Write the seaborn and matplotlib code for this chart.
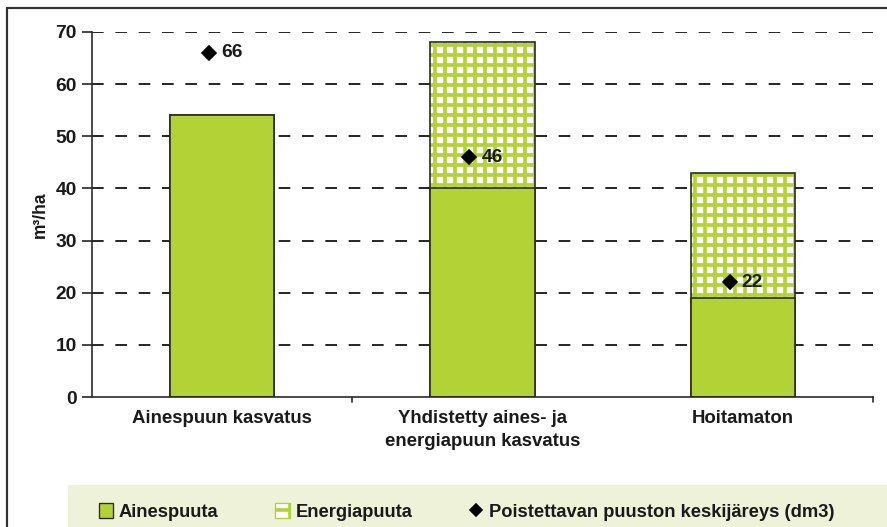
import matplotlib
matplotlib.use("Agg")
import matplotlib.pyplot as plt
import matplotlib.transforms as mtransforms
from matplotlib.patches import Patch, Rectangle
from matplotlib.lines import Line2D
import seaborn as sns
import pandas as pd

categories = ["Ainespuun kasvatus", "Yhdistetty aines- ja\nenergiapuun kasvatus", "Hoitamaton"]
ainespuuta = [54, 40, 19]
energiapuuta = [0, 28, 24]
keskijareys = [66, 46, 22]

green = "#B3D235"
edge = "#2b2b2b"

sns.set_style("white")
plt.rcParams["font.family"] = ["Liberation Sans", "DejaVu Sans"]
plt.rcParams["font.weight"] = "bold"
plt.rcParams["hatch.linewidth"] = 2.2

df = pd.DataFrame({
    "kategoria": categories,
    "aines": ainespuuta,
    "yhteensa": [a + e for a, e in zip(ainespuuta, energiapuuta)],
})

fig = plt.figure(figsize=(887 / 120, 527 / 120), dpi=120)
ax = fig.add_axes([92 / 887, 1 - 397 / 527, (873 - 92) / 887, (397 - 32) / 527])

# energiapuu (hatched) up to the total, then ainespuu on top
sns.barplot(data=df, x="kategoria", y="yhteensa", ax=ax, color="white", saturation=1,
            width=0.4, hatch="++", edgecolor=green, linewidth=0, zorder=2)
sns.barplot(data=df, x="kategoria", y="yhteensa", ax=ax, fill=False, saturation=1,
            width=0.4, edgecolor=edge, linewidth=1.0, zorder=3)
sns.barplot(data=df, x="kategoria", y="aines", ax=ax, color=green, saturation=1,
            width=0.4, edgecolor=edge, linewidth=1.0, zorder=4)

# diamonds, slightly left of the bar centre as in the original
shift = mtransforms.offset_copy(ax.transData, fig=fig, x=-13, y=0, units="dots")
xs = list(range(len(categories)))
ax.plot(xs, keskijareys, linestyle="none", marker="D", markersize=6,
        color="black", transform=shift, zorder=6)
for x, v in zip(xs, keskijareys):
    lab = mtransforms.offset_copy(ax.transData, fig=fig, x=-1, y=0, units="dots")
    ax.text(x, v, str(v), transform=lab, ha="left", va="center",
            fontsize=11.5, fontweight="bold", color="#1a1a1a", zorder=7)

ax.set_ylim(0, 70)
ax.set_xlim(-0.5, 2.5)
ax.set_yticks(range(0, 71, 10))
ax.set_ylabel("m³/ha", fontsize=10.5, fontweight="bold", labelpad=4, color="#1a1a1a")
ax.set_xlabel("")
ax.tick_params(axis="y", labelsize=11.5, length=6, width=1, direction="out", pad=3, left=True)
ax.tick_params(axis="x", labelsize=11.2, length=0, pad=8)
for t in ax.get_xticklabels() + ax.get_yticklabels():
    t.set_fontweight("bold")
    t.set_color("#1a1a1a")
for t in ax.get_xticklabels():
    t.set_linespacing(1.45)
    t.set_va("top")

# boundary ticks on the category axis
for b in [0.5, 2.5]:
    ax.plot([b, b], [0, -1.0], color=edge, lw=1, clip_on=False, zorder=5)

for y in range(10, 71, 10):
    ax.axhline(y, color="black", lw=1.0, linestyle=(0, (7, 7)), zorder=1)

for s in ["top", "right"]:
    ax.spines[s].set_visible(False)
for s in ["left", "bottom"]:
    ax.spines[s].set_color(edge)
    ax.spines[s].set_linewidth(1)
    ax.spines[s].set_zorder(5)

# outer frame and legend band
fig.add_artist(Line2D([7 / 887, 1], [1 - 8 / 527, 1 - 8 / 527], color="#333333", lw=1.3,
                      transform=fig.transFigure))
fig.add_artist(Line2D([7 / 887, 7 / 887], [0, 1 - 8 / 527], color="#333333", lw=1.3,
                      transform=fig.transFigure))
fig.add_artist(Rectangle((68 / 887, 0), 1 - 68 / 887, 42 / 527, transform=fig.transFigure,
                         facecolor="#EDF2D8", edgecolor="none", zorder=0))

handles = [
    Patch(facecolor=green, edgecolor=edge, linewidth=0.8, label="Ainespuuta"),
    Patch(facecolor="white", edgecolor=green, hatch="+", linewidth=0.8, label="Energiapuuta"),
    Line2D([], [], linestyle="none", marker="D", markersize=5, color="black",
           label="Poistettavan puuston keskijäreys (dm3)"),
]
leg = fig.legend(handles=handles, loc="center left", bbox_to_anchor=(82 / 887, 15 / 527),
                 ncol=3, frameon=False, handlelength=0.8, handleheight=0.9,
                 handletextpad=0.3, columnspacing=3.1, prop={"weight": "bold", "size": 11})
for t in leg.get_texts():
    t.set_color("#1a1a1a")

fig.savefig("out.png", dpi=120, facecolor="white")
